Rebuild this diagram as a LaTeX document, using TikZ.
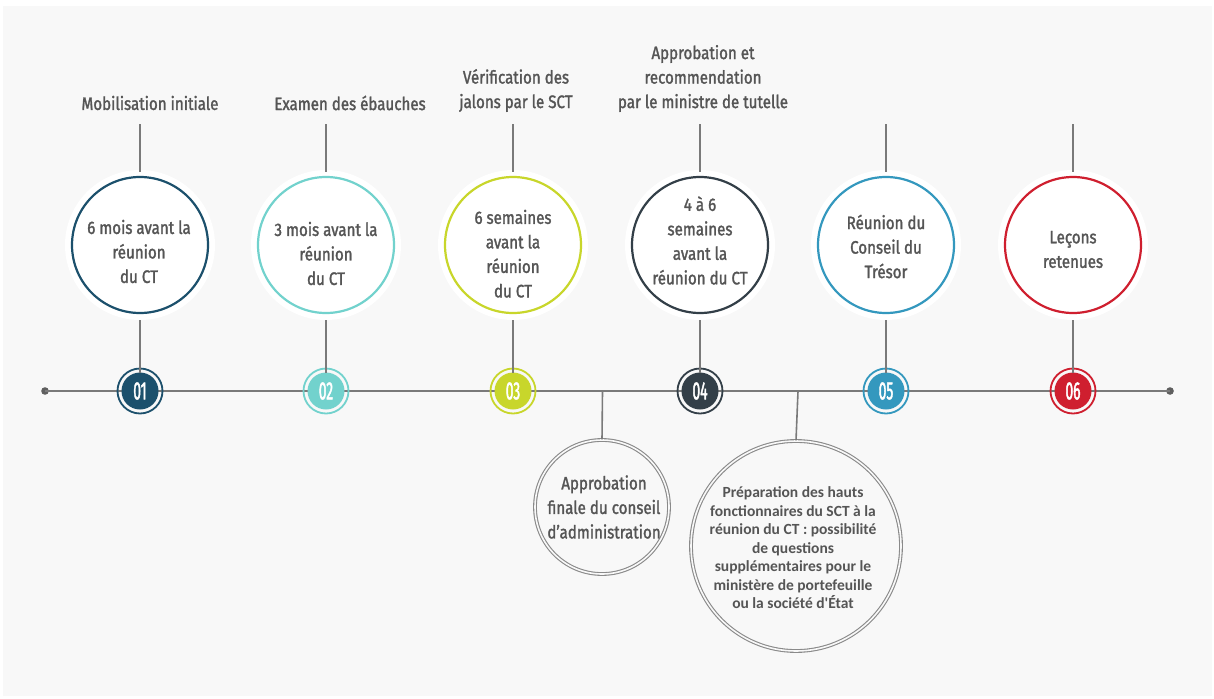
\documentclass[tikz,border=0pt]{standalone}
\usepackage{fontspec}
\setmainfont{Fira Sans}[FakeStretch=0.84,FakeBold=1.6]
\newfontfamily\numf{Fira Sans}[FakeStretch=0.55,FakeBold=1.6]
\newfontfamily\calf{Carlito}
\definecolor{bg}{HTML}{F8F8F8}
\definecolor{txt}{HTML}{555555}
\definecolor{tl}{HTML}{7A7A7A}
\definecolor{cA}{HTML}{1C506C}
\definecolor{cB}{HTML}{72D2CD}
\definecolor{cC}{HTML}{C8D62B}
\definecolor{cD}{HTML}{333F48}
\definecolor{cE}{HTML}{3498BE}
\definecolor{cF}{HTML}{CF1F2F}
\definecolor{ring}{HTML}{8A8A8A}
\tikzset{
  lbl/.style={text=txt,align=center,inner sep=0pt,font=\fontsize{18}{24.5}\selectfont},
  big/.style={circle,draw=#1,line width=2.2pt,fill=white,minimum size=136pt,inner sep=0pt},
  halo/.style={circle,fill=white,minimum size=150pt,inner sep=0pt},
  num/.style={circle,fill=#1,text=white,minimum size=37pt,inner sep=0pt,
     font=\numf\fontsize{25}{25}\selectfont,
     append after command={\pgfextra{\draw[#1,line width=1.8pt] (\tikzlastnode.center) circle (22.5pt);}}},
  conn/.style={tl,line width=1.6pt},
  dbl/.style={circle,draw=ring,line width=1.1pt,double=bg,double distance=1.6pt,inner sep=0pt},
}
\begin{document}
\begin{tikzpicture}[x=1pt,y=-1pt]
\useasboundingbox (0,0) rectangle (1214,698);
\fill[white] (0,0) rectangle (1214,698);
\fill[bg] (3,6) rectangle (1212,696);
% timeline
\coordinate (L) at (45,391);
\coordinate (R) at (1170,391);
\fill[tl!120] (L) circle (3.8pt);
\fill[tl!120] (R) circle (3.8pt);
\draw[conn] (L) -- (R);
% halos
\foreach \x in {140,326,513,700,886,1073} \node[halo] at (\x,245) {};
% big circles
\node[big=cA] (c1) at (140,245) {};
\node[big=cB] (c2) at (326,245) {};
\node[big=cC] (c3) at (513,245) {};
\node[big=cD] (c4) at (700,245) {};
\node[big=cE] (c5) at (886,245) {};
\node[big=cF] (c6) at (1073,245) {};
\node[lbl] (x1) at (139,251.5) {6 mois avant la\\réunion\\du CT};
\node[lbl] (x2) at (326,253.5) {3 mois avant la\\réunion\\du CT};
\node[lbl] (x3) at (513,253.7) {6 semaines\\avant la\\réunion\\du CT};
\node[lbl] (x4) at (700,240.5) {4 à 6\\semaines\\avant la\\réunion du CT};
\node[lbl] (x5) at (886,246.5) {Réunion du\\Conseil du\\Trésor};
\node[lbl] (x6) at (1073,249.5) {Leçons\\retenues};
% top labels
\node[lbl] (t1) at (150,103) {Mobilisation initiale};
\node[lbl] (t2) at (350,103) {Examen des ébauches};
\node[lbl] (t3) at (516,90.5) {Vérification des\\jalons par le SCT};
\node[lbl] (t4) at (703,78.5) {Approbation et\\recommendation\\par le ministre de tutelle};
\foreach \i/\x in {1/140,2/326,3/513,4/700,5/886,6/1073}{
  \coordinate (u\i) at (\x,124);
  \coordinate (v\i) at (\x,172);
  \coordinate (w\i) at (\x,320);
}
% number nodes
\node[num=cA] (n1) at (140,391) {01};
\node[num=cB] (n2) at (326,391) {02};
\node[num=cC] (n3) at (513,391) {03};
\node[num=cD] (n4) at (700,391) {04};
\node[num=cE] (n5) at (886,391) {05};
\node[num=cF] (n6) at (1073,391) {06};
\foreach \i in {1,...,6}{
  \draw[conn] (u\i) -- (v\i);
  \draw[conn] (w\i) -- ([yshift=-1pt]n\i.north);
}
% bottom circles
\coordinate (ja) at (602.5,391);
\coordinate (jb) at (798,391);
\node[dbl,minimum size=134pt] (ba) at (602,507) {};
\node[dbl,minimum size=210pt] (bb) at (796,546) {};
\draw[conn] (ja) -- (ba.north);
\draw[conn] (jb) -- (bb.north);
\node[lbl] (xa) at (604,507) {Approbation\\finale du conseil\\d’administration};
\node[lbl,font=\calf\bfseries\fontsize{15.5}{18.5}\selectfont] (xb) at (793,548) {Préparation des hauts\\fonctionnaires du SCT à la\\réunion du CT : possibilité\\de questions\\supplémentaires pour le\\ministère de portefeuille\\ou la société d'État};
\end{tikzpicture}
\end{document}
